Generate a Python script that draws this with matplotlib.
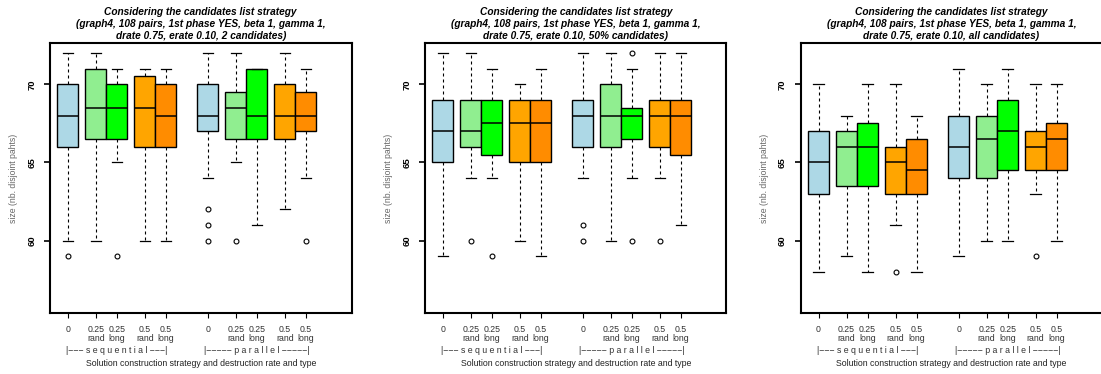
import matplotlib
matplotlib.use("Agg")
import matplotlib.pyplot as plt

plt.rcParams['font.family'] = ['Liberation Sans', 'DejaVu Sans']

# box positions / labels (sequential block then parallel block)
positions = [0, 4, 7, 11, 14, 20, 24, 27, 31, 34]
tick_labels = ["0", "0.25\nrand", "0.25\nlong", "0.5\nrand", "0.5\nlong",
               "0", "0.25\nrand", "0.25\nlong", "0.5\nrand", "0.5\nlong"]
box_colors = ["#ADD8E6", "#90EE90", "#00FF00", "#FFA500", "#FF8C00"] * 2

subtitles = ["2 candidates", "50% candidates", "all candidates"]

# panel 1: 2 candidates
p1_whislo = [60, 60, 65, 60, 60, 64, 65, 61, 62, 64]
p1_q1 = [66, 66.5, 66.5, 66, 66, 67, 66.5, 66.5, 66.5, 67]
p1_med = [68, 68.5, 68.5, 68.5, 68, 68, 68.5, 68, 68, 68]
p1_q3 = [70, 71, 70, 70.5, 70, 70, 69.5, 71, 70, 69.5]
p1_whishi = [72, 72, 71, 71, 71, 72, 72, 71, 72, 71]
p1_fliers = [[59], [], [59], [], [], [62, 61, 60], [60], [], [], [60]]

# panel 2: 50% candidates
p2_whislo = [59, 64, 64, 60, 59, 64, 60, 64, 64, 61]
p2_q1 = [65, 66, 65.5, 65, 65, 66, 66, 66.5, 66, 65.5]
p2_med = [67, 67, 67.5, 67.5, 67.5, 68, 68, 68, 68, 68]
p2_q3 = [69, 69, 69, 69, 69, 69, 70, 68.5, 69, 69]
p2_whishi = [72, 72, 71, 70, 71, 72, 72, 71, 72, 72]
p2_fliers = [[], [60], [59], [], [], [61, 60], [], [72, 60], [60], []]

# panel 3: all candidates
p3_whislo = [58, 59, 58, 61, 58, 59, 60, 60, 63, 60]
p3_q1 = [63, 63.5, 63.5, 63, 63, 64, 64, 64.5, 64.5, 64.5]
p3_med = [65, 66, 66, 65, 64.5, 66, 66.5, 67, 66, 66.5]
p3_q3 = [67, 67, 67.5, 66, 66.5, 68, 68, 69, 67, 67.5]
p3_whishi = [70, 68, 70, 70, 68, 71, 70, 71, 70, 70]
p3_fliers = [[], [], [], [58], [], [], [], [], [59], []]

panels = [
    (p1_whislo, p1_q1, p1_med, p1_q3, p1_whishi, p1_fliers),
    (p2_whislo, p2_q1, p2_med, p2_q3, p2_whishi, p2_fliers),
    (p3_whislo, p3_q1, p3_med, p3_q3, p3_whishi, p3_fliers),
]

W, H = 1101, 374
fig = plt.figure(figsize=(W / 100, H / 100), dpi=100)

lefts = [50, 425, 800.7]
ax_w = 301.5
ax_top, ax_bot = 43, 313

for k, (lo, q1, med, q3, hi, fl) in enumerate(panels):
    left = lefts[k]
    ax = fig.add_axes([left / W, (H - ax_bot) / H, ax_w / W, (ax_bot - ax_top) / H])
    stats = []
    for i in range(len(positions)):
        stats.append(dict(whislo=lo[i], q1=q1[i], med=med[i], q3=q3[i],
                          whishi=hi[i], fliers=fl[i]))
    bp = ax.bxp(stats, positions=positions, widths=3, patch_artist=True,
                showfliers=True,
                boxprops=dict(edgecolor="black", linewidth=1.0),
                medianprops=dict(color="black", linewidth=1.1),
                whiskerprops=dict(color="black", linewidth=0.8, linestyle=(0, (2.7, 2.7))),
                capprops=dict(color="black", linewidth=0.9),
                flierprops=dict(marker="o", markerfacecolor="none",
                                markeredgecolor="black", markersize=3.5,
                                markeredgewidth=0.8))
    for patch, c in zip(bp["boxes"], box_colors):
        patch.set_facecolor(c)
    for cap in bp["caps"]:
        x0, x1 = cap.get_xdata()
        mid = (x0 + x1) / 2
        cap.set_xdata([mid - 0.75, mid + 0.75])

    ax.set_xlim(-2.55, 40.5)
    ax.set_ylim(55.36, 72.64)
    for s in ax.spines.values():
        s.set_linewidth(1.5)

    ax.set_yticks([60, 65, 70])
    ax.set_yticklabels(["60", "65", "70"], rotation=90, va="center",
                       fontsize=6.8, fontweight="bold")
    ax.tick_params(axis="y", length=4.3, width=1.2, pad=5.5)

    ax.set_xticks(positions)
    ax.set_xticklabels(tick_labels, fontsize=6.3, color="#333333",
                       linespacing=0.95)
    ax.tick_params(axis="x", length=3.6, width=0.8, pad=5)

    ax.set_title("Considering the candidates list strategy\n"
                 "(graph4, 108 pairs, 1st phase YES, beta 1, gamma 1,\n"
                 "drate 0.75, erate 0.10, " + subtitles[k] + ")",
                 fontsize=7.3, fontweight="bold", fontstyle="italic",
                 linespacing=1.22, pad=3)

    tr = ax.get_xaxis_transform()
    gy = -(350.7 - ax_bot) / (ax_bot - ax_top)
    ax.text((positions[0] + positions[4]) / 2, gy,
            "|\u2212\u2212\u2212 s e q u e n t i a l \u2212\u2212\u2212|",
            transform=tr, ha="center", va="center", fontsize=6.3, color="#333333")
    ax.text((positions[5] + positions[9]) / 2, gy,
            "|\u2212\u2212\u2212\u2212\u2212 p a r a l l e l \u2212\u2212\u2212\u2212\u2212|",
            transform=tr, ha="center", va="center", fontsize=6.3, color="#333333")
    ly = -(363.5 - ax_bot) / (ax_bot - ax_top)
    ax.text(0.5, ly, "Solution construction strategy and destruction rate and type",
            transform=ax.transAxes, ha="center", va="center", fontsize=6.3,
            color="#222222")

    fig.text((left - 36.5) / W, (H - 178) / H, "size (nb. disjoint pahts)",
             rotation=90, ha="center", va="center", fontsize=6.2, color="#666666")

fig.savefig("out.png", dpi=100)
